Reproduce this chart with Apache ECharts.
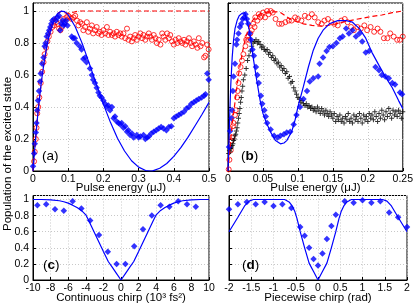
<!DOCTYPE html>
<html><head><meta charset="utf-8">
<script src="https://cdn.jsdelivr.net/npm/echarts@6/dist/echarts.min.js"></script>
<style>html,body{margin:0;padding:0;background:#fff}#c{width:416px;height:305px}</style>
</head><body><div id="c"></div>
<script>
// ---------- Panel (a): pulse energy (uJ) ----------
var aBlueTheory = [[0,0],[0.001,0.029],[0.002,0.058],[0.003,0.087],[0.005,0.141],[0.01,0.269],[0.015,0.384],[0.02,0.486],[0.025,0.577],[0.03,0.656],[0.035,0.726],[0.04,0.787],[0.045,0.839],[0.05,0.882],[0.055,0.917],[0.06,0.945],[0.065,0.968],[0.07,0.984],[0.075,0.994],[0.08,0.999],[0.083,1.0],[0.09,0.996],[0.1,0.977],[0.12,0.902],[0.14,0.796],[0.16,0.671],[0.18,0.542],[0.2,0.418],[0.22,0.304],[0.24,0.205],[0.26,0.125],[0.28,0.064],[0.3,0.024],[0.32,0.003],[0.332,0],[0.34,0.001],[0.36,0.017],[0.38,0.047],[0.4,0.091],[0.42,0.146],[0.44,0.21],[0.46,0.281],[0.48,0.353],[0.5,0.429]];
var aRedTheory = [[0,0],[0.001,0.029],[0.002,0.058],[0.003,0.087],[0.005,0.141],[0.01,0.269],[0.015,0.384],[0.02,0.486],[0.025,0.577],[0.03,0.656],[0.035,0.726],[0.04,0.787],[0.045,0.839],[0.05,0.882],[0.055,0.917],[0.06,0.945],[0.065,0.968],[0.07,0.984],[0.075,0.994],[0.08,0.999],[0.09,0.99],[0.1,0.985],[0.11,0.99],[0.13,1.0],[0.5,1.0]];
var aBlueData = [[0.0,0.03],[0.003,0.11],[0.005,0.17],[0.008,0.24],[0.01,0.3],[0.012,0.38],[0.014,0.44],[0.017,0.5],[0.02,0.56],[0.022,0.61],[0.026,0.67],[0.03,0.71],[0.033,0.78],[0.036,0.8],[0.039,0.84],[0.043,0.86],[0.046,0.88],[0.049,0.9],[0.052,0.92],[0.055,0.94],[0.06,0.95],[0.065,0.94],[0.07,0.96],[0.074,0.97],[0.077,0.88],[0.08,0.92],[0.084,0.94],[0.087,0.91],[0.09,0.92],[0.094,0.94],[0.098,0.91],[0.11,0.84],[0.114,0.83],[0.119,0.83],[0.124,0.8],[0.133,0.78],[0.138,0.76],[0.143,0.7],[0.148,0.71],[0.152,0.68],[0.162,0.64],[0.167,0.6],[0.171,0.57],[0.176,0.55],[0.181,0.52],[0.186,0.49],[0.19,0.47],[0.195,0.46],[0.2,0.44],[0.205,0.42],[0.21,0.4],[0.214,0.41],[0.219,0.38],[0.224,0.4],[0.229,0.33],[0.233,0.34],[0.238,0.31],[0.243,0.3],[0.248,0.29],[0.252,0.3],[0.257,0.27],[0.262,0.28],[0.267,0.245],[0.271,0.255],[0.276,0.225],[0.281,0.235],[0.286,0.21],[0.295,0.225],[0.3,0.21],[0.305,0.215],[0.314,0.225],[0.319,0.2],[0.324,0.21],[0.329,0.215],[0.336,0.235],[0.343,0.245],[0.35,0.255],[0.357,0.265],[0.364,0.275],[0.371,0.265],[0.379,0.255],[0.386,0.275],[0.393,0.28],[0.4,0.33],[0.407,0.34],[0.414,0.35],[0.421,0.36],[0.429,0.37],[0.436,0.39],[0.443,0.4],[0.45,0.42],[0.457,0.43],[0.464,0.44],[0.471,0.45],[0.479,0.46],[0.486,0.47],[0.49,0.48],[0.495,0.61],[0.499,0.57]];
var aRedData = [[0.003,0.06],[0.005,0.12],[0.008,0.2],[0.01,0.27],[0.012,0.36],[0.015,0.4],[0.018,0.46],[0.022,0.55],[0.026,0.62],[0.03,0.68],[0.033,0.73],[0.037,0.77],[0.041,0.81],[0.045,0.84],[0.05,0.87],[0.055,0.9],[0.06,0.91],[0.065,0.93],[0.07,0.92],[0.074,0.89],[0.078,0.88],[0.082,0.9],[0.086,0.95],[0.09,0.93],[0.095,0.96],[0.1,0.97],[0.105,0.96],[0.11,0.95],[0.115,0.96],[0.12,0.97],[0.125,0.94],[0.129,0.91],[0.134,0.93],[0.139,0.92],[0.143,0.88],[0.148,0.9],[0.153,0.93],[0.157,0.87],[0.162,0.89],[0.167,0.91],[0.171,0.86],[0.176,0.88],[0.181,0.9],[0.186,0.86],[0.19,0.87],[0.195,0.85],[0.2,0.88],[0.205,0.86],[0.21,0.9],[0.214,0.85],[0.219,0.87],[0.224,0.85],[0.229,0.86],[0.233,0.84],[0.238,0.87],[0.243,0.85],[0.248,0.86],[0.252,0.84],[0.257,0.86],[0.262,0.83],[0.267,0.89],[0.271,0.82],[0.276,0.84],[0.281,0.81],[0.286,0.83],[0.29,0.85],[0.295,0.82],[0.3,0.84],[0.305,0.86],[0.31,0.83],[0.314,0.85],[0.319,0.82],[0.324,0.84],[0.329,0.86],[0.333,0.84],[0.338,0.82],[0.343,0.85],[0.348,0.83],[0.352,0.8],[0.357,0.82],[0.362,0.79],[0.367,0.86],[0.371,0.84],[0.376,0.82],[0.381,0.86],[0.386,0.83],[0.39,0.85],[0.395,0.81],[0.4,0.79],[0.405,0.82],[0.41,0.8],[0.414,0.83],[0.419,0.81],[0.424,0.8],[0.429,0.82],[0.433,0.79],[0.438,0.81],[0.443,0.83],[0.448,0.8],[0.452,0.78],[0.457,0.81],[0.462,0.79],[0.467,0.77],[0.471,0.83],[0.476,0.78],[0.481,0.8],[0.486,0.71],[0.49,0.72],[0.495,0.79],[0.499,0.76]];

// ---------- Panel (b): pulse energy (uJ) ----------
var bBlueTheory = [[0,0],[0.001,0.12],[0.002,0.28],[0.003,0.42],[0.004,0.54],[0.006,0.71],[0.008,0.82],[0.01,0.89],[0.013,0.94],[0.016,0.97],[0.02,0.985],[0.024,0.99],[0.027,0.94],[0.03,0.89],[0.032,0.84],[0.036,0.71],[0.041,0.57],[0.046,0.44],[0.05,0.36],[0.055,0.3],[0.062,0.235],[0.068,0.19],[0.075,0.17],[0.08,0.175],[0.084,0.19],[0.091,0.245],[0.096,0.32],[0.1,0.4],[0.108,0.53],[0.115,0.65],[0.122,0.755],[0.129,0.83],[0.136,0.88],[0.145,0.92],[0.157,0.94],[0.169,0.94],[0.178,0.93],[0.188,0.89],[0.197,0.83],[0.206,0.74],[0.216,0.66],[0.225,0.59],[0.235,0.52],[0.244,0.44],[0.25,0.39]];
var bRedTheory = [[0,0],[0.002,0.1],[0.004,0.2],[0.006,0.29],[0.008,0.36],[0.01,0.43],[0.012,0.5],[0.015,0.6],[0.018,0.68],[0.021,0.75],[0.025,0.83],[0.03,0.9],[0.035,0.94],[0.04,0.965],[0.045,0.98],[0.05,0.99],[0.06,0.995],[0.07,0.995],[0.075,0.99],[0.082,0.97],[0.089,0.95],[0.1,0.93],[0.108,0.92],[0.12,0.91],[0.136,0.905],[0.15,0.915],[0.164,0.93],[0.18,0.945],[0.192,0.955],[0.205,0.965],[0.22,0.975],[0.235,0.99],[0.25,1.0]];
var bBlueData = [[0.0014,0.15],[0.003,0.25],[0.005,0.33],[0.006,0.38],[0.007,0.5],[0.008,0.59],[0.01,0.67],[0.012,0.79],[0.013,0.82],[0.015,0.86],[0.017,0.9],[0.019,0.92],[0.021,0.95],[0.023,0.96],[0.025,0.98],[0.027,0.95],[0.029,0.92],[0.031,0.86],[0.033,0.82],[0.035,0.76],[0.037,0.72],[0.04,0.65],[0.042,0.6],[0.044,0.55],[0.047,0.47],[0.049,0.42],[0.052,0.38],[0.054,0.34],[0.056,0.3],[0.061,0.26],[0.066,0.22],[0.071,0.21],[0.075,0.22],[0.08,0.23],[0.084,0.24],[0.089,0.245],[0.094,0.29],[0.098,0.35],[0.103,0.4],[0.108,0.45],[0.113,0.5],[0.117,0.56],[0.122,0.58],[0.129,0.59],[0.131,0.67],[0.136,0.71],[0.141,0.75],[0.145,0.775],[0.15,0.78],[0.155,0.8],[0.16,0.83],[0.164,0.84],[0.169,0.89],[0.173,0.86],[0.178,0.88],[0.183,0.84],[0.188,0.86],[0.192,0.81],[0.197,0.74],[0.202,0.75],[0.211,0.65],[0.216,0.63],[0.22,0.6],[0.225,0.59],[0.23,0.58],[0.235,0.55],[0.239,0.54],[0.246,0.49],[0.249,0.48]];
var bRedData = [[0.001,0.01],[0.002,0.07],[0.004,0.13],[0.005,0.19],[0.006,0.21],[0.007,0.28],[0.008,0.3],[0.01,0.35],[0.011,0.38],[0.013,0.46],[0.014,0.5],[0.015,0.55],[0.016,0.61],[0.018,0.65],[0.02,0.69],[0.022,0.73],[0.025,0.78],[0.026,0.82],[0.028,0.84],[0.03,0.82],[0.032,0.86],[0.034,0.88],[0.036,0.92],[0.038,0.9],[0.039,0.96],[0.042,0.94],[0.044,0.98],[0.046,0.96],[0.048,0.97],[0.05,0.99],[0.053,0.96],[0.056,1.0],[0.058,0.98],[0.061,1.0],[0.064,0.99],[0.068,0.95],[0.073,0.92],[0.077,0.92],[0.082,0.93],[0.087,0.94],[0.091,0.94],[0.096,0.96],[0.1,0.95],[0.105,0.94],[0.11,0.97],[0.115,0.96],[0.12,0.98],[0.124,0.96],[0.129,0.93],[0.134,0.92],[0.138,0.94],[0.143,0.95],[0.148,0.93],[0.152,0.92],[0.157,0.91],[0.162,0.94],[0.167,0.95],[0.171,0.93],[0.176,0.9],[0.18,0.88],[0.185,0.9],[0.19,0.89],[0.195,0.91],[0.199,0.88],[0.204,0.9],[0.209,0.87],[0.214,0.89],[0.218,0.87],[0.223,0.83],[0.228,0.83],[0.232,0.86],[0.237,0.84],[0.242,0.82],[0.246,0.82],[0.25,0.84]];
var bBlackData = [[0.001,0.11],[0.002,0.13],[0.003,0.12],[0.004,0.14],[0.005,0.15],[0.006,0.16],[0.007,0.17],[0.008,0.19],[0.009,0.2],[0.01,0.22],[0.011,0.23],[0.012,0.25],[0.013,0.27],[0.014,0.3],[0.015,0.33],[0.016,0.36],[0.017,0.39],[0.018,0.43],[0.019,0.46],[0.02,0.5],[0.021,0.53],[0.022,0.57],[0.024,0.6],[0.026,0.64],[0.028,0.69],[0.03,0.72],[0.032,0.75],[0.034,0.78],[0.036,0.8],[0.038,0.81],[0.04,0.82],[0.042,0.8],[0.044,0.81],[0.046,0.79],[0.048,0.77],[0.05,0.78],[0.052,0.76],[0.054,0.75],[0.056,0.76],[0.058,0.73],[0.06,0.74],[0.062,0.71],[0.064,0.72],[0.066,0.69],[0.068,0.7],[0.07,0.67],[0.072,0.68],[0.074,0.65],[0.076,0.66],[0.078,0.63],[0.08,0.64],[0.082,0.61],[0.084,0.62],[0.086,0.58],[0.088,0.59],[0.09,0.55],[0.092,0.56],[0.094,0.52],[0.096,0.5],[0.098,0.48],[0.1,0.46],[0.102,0.45],[0.104,0.43],[0.106,0.44],[0.108,0.42],[0.11,0.41],[0.112,0.42],[0.114,0.4],[0.116,0.41],[0.118,0.39],[0.12,0.4],[0.122,0.38],[0.124,0.39],[0.126,0.37],[0.128,0.4],[0.13,0.38],[0.132,0.36],[0.134,0.39],[0.136,0.37],[0.138,0.35],[0.14,0.38],[0.142,0.36],[0.144,0.34],[0.146,0.37],[0.148,0.35],[0.15,0.33],[0.152,0.36],[0.154,0.31],[0.156,0.34],[0.158,0.32],[0.16,0.35],[0.162,0.31],[0.164,0.33],[0.166,0.3],[0.168,0.34],[0.17,0.32],[0.172,0.36],[0.174,0.31],[0.176,0.33],[0.178,0.3],[0.18,0.35],[0.182,0.32],[0.184,0.34],[0.186,0.31],[0.188,0.36],[0.19,0.33],[0.192,0.3],[0.194,0.35],[0.196,0.32],[0.198,0.34],[0.2,0.31],[0.202,0.36],[0.204,0.33],[0.206,0.35],[0.208,0.32],[0.21,0.37],[0.212,0.34],[0.214,0.31],[0.216,0.36],[0.218,0.33],[0.22,0.38],[0.222,0.35],[0.224,0.32],[0.226,0.37],[0.228,0.34],[0.23,0.39],[0.232,0.36],[0.234,0.33],[0.236,0.38],[0.238,0.35],[0.24,0.37],[0.242,0.34],[0.244,0.38],[0.246,0.36],[0.248,0.33],[0.25,0.37]];

// ---------- Panel (c): continuous chirp (10^3 fs^2) ----------
var cTheory = [[-10,1.0],[-9,1.0],[-8,0.995],[-7,0.985],[-6.5,0.972],[-6,0.955],[-5.5,0.93],[-5,0.9],[-4.5,0.865],[-4,0.81],[-3.7,0.745],[-3,0.585],[-2.5,0.47],[-2,0.355],[-1.45,0.23],[-1,0.16],[-0.5,0.08],[0,0],[0.5,0.08],[1,0.16],[1.45,0.23],[2,0.355],[2.5,0.47],[3,0.585],[3.7,0.745],[4,0.81],[4.5,0.865],[5,0.9],[5.5,0.93],[6,0.955],[6.5,0.972],[7,0.985],[8,0.995],[9,1.0],[10,1.0]];
var cData = [[-9.5,0.93],[-8.5,0.94],[-7.5,0.88],[-6.5,0.86],[-5.5,0.98],[-4.5,0.89],[-3.5,0.74],[-2.5,0.56],[-1.5,0.35],[-0.5,0.2],[0.5,0.2],[1.5,0.42],[2.5,0.63],[3.5,0.8],[4.5,0.93],[5.5,0.91],[6.5,0.98],[7.5,0.94],[8.5,0.91]];

// ---------- Panel (d): piecewise chirp (rad) ----------
var dTheory = [[-2,0.6],[-1.8,0.78],[-1.65,0.92],[-1.55,0.98],[-1.45,1.0],[-0.75,1.0],[-0.65,0.97],[-0.58,0.92],[-0.52,0.85],[-0.47,0.76],[-0.4,0.6],[-0.3,0.4],[-0.2,0.21],[-0.1,0.105],[0,0],[0.1,0.105],[0.2,0.21],[0.3,0.4],[0.4,0.6],[0.47,0.76],[0.52,0.85],[0.58,0.92],[0.65,0.97],[0.75,1.0],[1.45,1.0],[1.55,0.98],[1.65,0.92],[1.8,0.78],[2,0.6]];
var dData = [[-2,0.88],[-1.8,0.94],[-1.6,0.97],[-1.4,0.94],[-1.2,0.97],[-1.0,0.92],[-0.8,0.94],[-0.6,0.895],[-0.4,0.66],[-0.3,0.55],[-0.2,0.4],[-0.1,0.26],[0,0.18],[0.1,0.33],[0.2,0.51],[0.3,0.67],[0.4,0.81],[0.6,0.98],[0.8,0.96],[1.0,0.99],[1.2,0.96],[1.4,0.98],[1.6,0.84],[1.8,0.78],[2.0,0.66]];

var yTicks = [0, 0.2, 0.4, 0.6, 0.8, 1];
var panelLabels = ['a', 'b', 'c', 'd'];

var FONT = 'Liberation Sans';
var BLUE = '#0000ff', RED = '#ff0000';

function yFmt(v) {
  for (var i = 0; i < yTicks.length; i++) if (Math.abs(v - yTicks[i]) < 1e-6) return String(yTicks[i]);
  return '';
}
function xAx(idx, min, max, interval, name, gap) {
  return {
    type: 'value', gridIndex: idx, min: min, max: max, interval: interval,
    name: name, nameLocation: 'middle', nameGap: gap, nameMoveOverlap: false,
    nameTextStyle: {fontFamily: FONT, fontSize: 11.5, color: '#000'},
    axisLine: {onZero: false, lineStyle: {color: '#000', width: 1}},
    axisTick: {inside: true, length: 3, lineStyle: {color: '#000'}},
    axisLabel: {fontFamily: FONT, fontSize: 10.5, color: '#000', margin: 3},
    splitLine: {show: true, lineStyle: {color: '#c8c8c8', type: [1, 2], width: 1}}
  };
}
function yAx(idx, showLabels) {
  return {
    type: 'value', gridIndex: idx, min: 0, max: 1.05, interval: 0.2,
    axisLine: {onZero: false, lineStyle: {color: '#000', width: 1}},
    axisTick: {inside: true, length: 3, lineStyle: {color: '#000'}},
    axisLabel: {show: showLabels, fontFamily: FONT, fontSize: 10.5, color: '#000', margin: 4, formatter: yFmt, showMaxLabel: false},
    splitLine: {show: true, lineStyle: {color: '#c8c8c8', type: [1, 2], width: 1}}
  };
}
function scatter(idx, data, kind) {
  var s = {type: 'scatter', xAxisIndex: idx, yAxisIndex: idx, data: data, silent: true, animation: false};
  if (kind === 'blue') { s.symbol = 'diamond'; s.symbolSize = 6.5; s.itemStyle = {color: BLUE}; }
  else if (kind === 'red') { s.symbol = 'circle'; s.symbolSize = 5; s.itemStyle = {color: 'rgba(0,0,0,0)', borderColor: RED, borderWidth: 1}; }
  else { s.symbol = 'path://M2.4,0H3.6V2.4H6V3.6H3.6V6H2.4V3.6H0V2.4H2.4Z'; s.symbolSize = 5; s.itemStyle = {color: '#000'}; }
  return s;
}
function line(idx, data, color, dashed) {
  return {type: 'line', xAxisIndex: idx, yAxisIndex: idx, data: data, showSymbol: false, symbol: 'none',
    silent: true, animation: false, z: 5, clip: true,
    lineStyle: {color: color, width: 1.2, type: dashed ? [5, 3] : 'solid'}};
}
function panelLabel(letter, x, y, bold) {
  return {type: 'text', left: x, top: y, z: 100, style: {
    text: '{n|(}{' + (bold ? 'b' : 'n') + '|' + letter + '}{n|)}',
    rich: {n: {fontFamily: FONT, fontSize: 13.5, fill: '#000'}, b: {fontFamily: FONT, fontSize: 13.5, fontWeight: 'bold', fill: '#000'}},
    fill: '#000', font: '13.5px ' + FONT
  }};
}

var chart = echarts.init(document.getElementById('c'), null, {renderer: 'canvas'});
chart.setOption({
  backgroundColor: '#fff',
  animation: false,
  grid: [
    {left: 33, top: 3, width: 176, height: 168, show: true, borderColor: '#000', borderWidth: 1, backgroundColor: 'transparent'},
    {left: 228, top: 3, width: 178, height: 168, show: true, borderColor: '#000', borderWidth: 1, backgroundColor: 'transparent'},
    {left: 33, top: 195.5, width: 176, height: 84.5, show: true, borderColor: '#000', borderWidth: 1, backgroundColor: 'transparent'},
    {left: 229, top: 195.5, width: 178, height: 84.5, show: true, borderColor: '#000', borderWidth: 1, backgroundColor: 'transparent'}
  ],
  xAxis: [
    xAx(0, 0, 0.5, 0.1, 'Pulse energy (μJ)', 11),
    xAx(1, 0, 0.25, 0.05, 'Pulse energy (μJ)', 11),
    xAx(2, -10, 10, 2, 'Continuous chirp (10³ fs²)', 12),
    xAx(3, -2, 2, 0.5, 'Piecewise chirp (rad)', 12)
  ],
  yAxis: [yAx(0, true), yAx(1, false), yAx(2, true), yAx(3, false)],
  graphic: [
    {type: 'text', x: 8, y: 154, rotation: Math.PI / 2, z: 100, style: {
      text: 'Population of the excited state', font: '11.5px ' + FONT, fill: '#000',
      textAlign: 'center', textVerticalAlign: 'middle'}},
    panelLabel(panelLabels[0], 42, 149, false),
    panelLabel(panelLabels[1], 241, 149, true),
    panelLabel(panelLabels[2], 43, 258, true),
    panelLabel(panelLabels[3], 242, 258, true)
  ],
  series: [
    scatter(0, aRedData, 'red'),
    scatter(0, aBlueData, 'blue'),
    line(0, aRedTheory, RED, true),
    line(0, aBlueTheory, BLUE, false),
    scatter(1, bRedData, 'red'),
    scatter(1, bBlackData, 'black'),
    scatter(1, bBlueData, 'blue'),
    line(1, bRedTheory, RED, true),
    line(1, bBlueTheory, BLUE, false),
    scatter(2, cData, 'blue'),
    line(2, cTheory, BLUE, false),
    scatter(3, dData, 'blue'),
    line(3, dTheory, BLUE, false)
  ]
});
</script></body></html>
